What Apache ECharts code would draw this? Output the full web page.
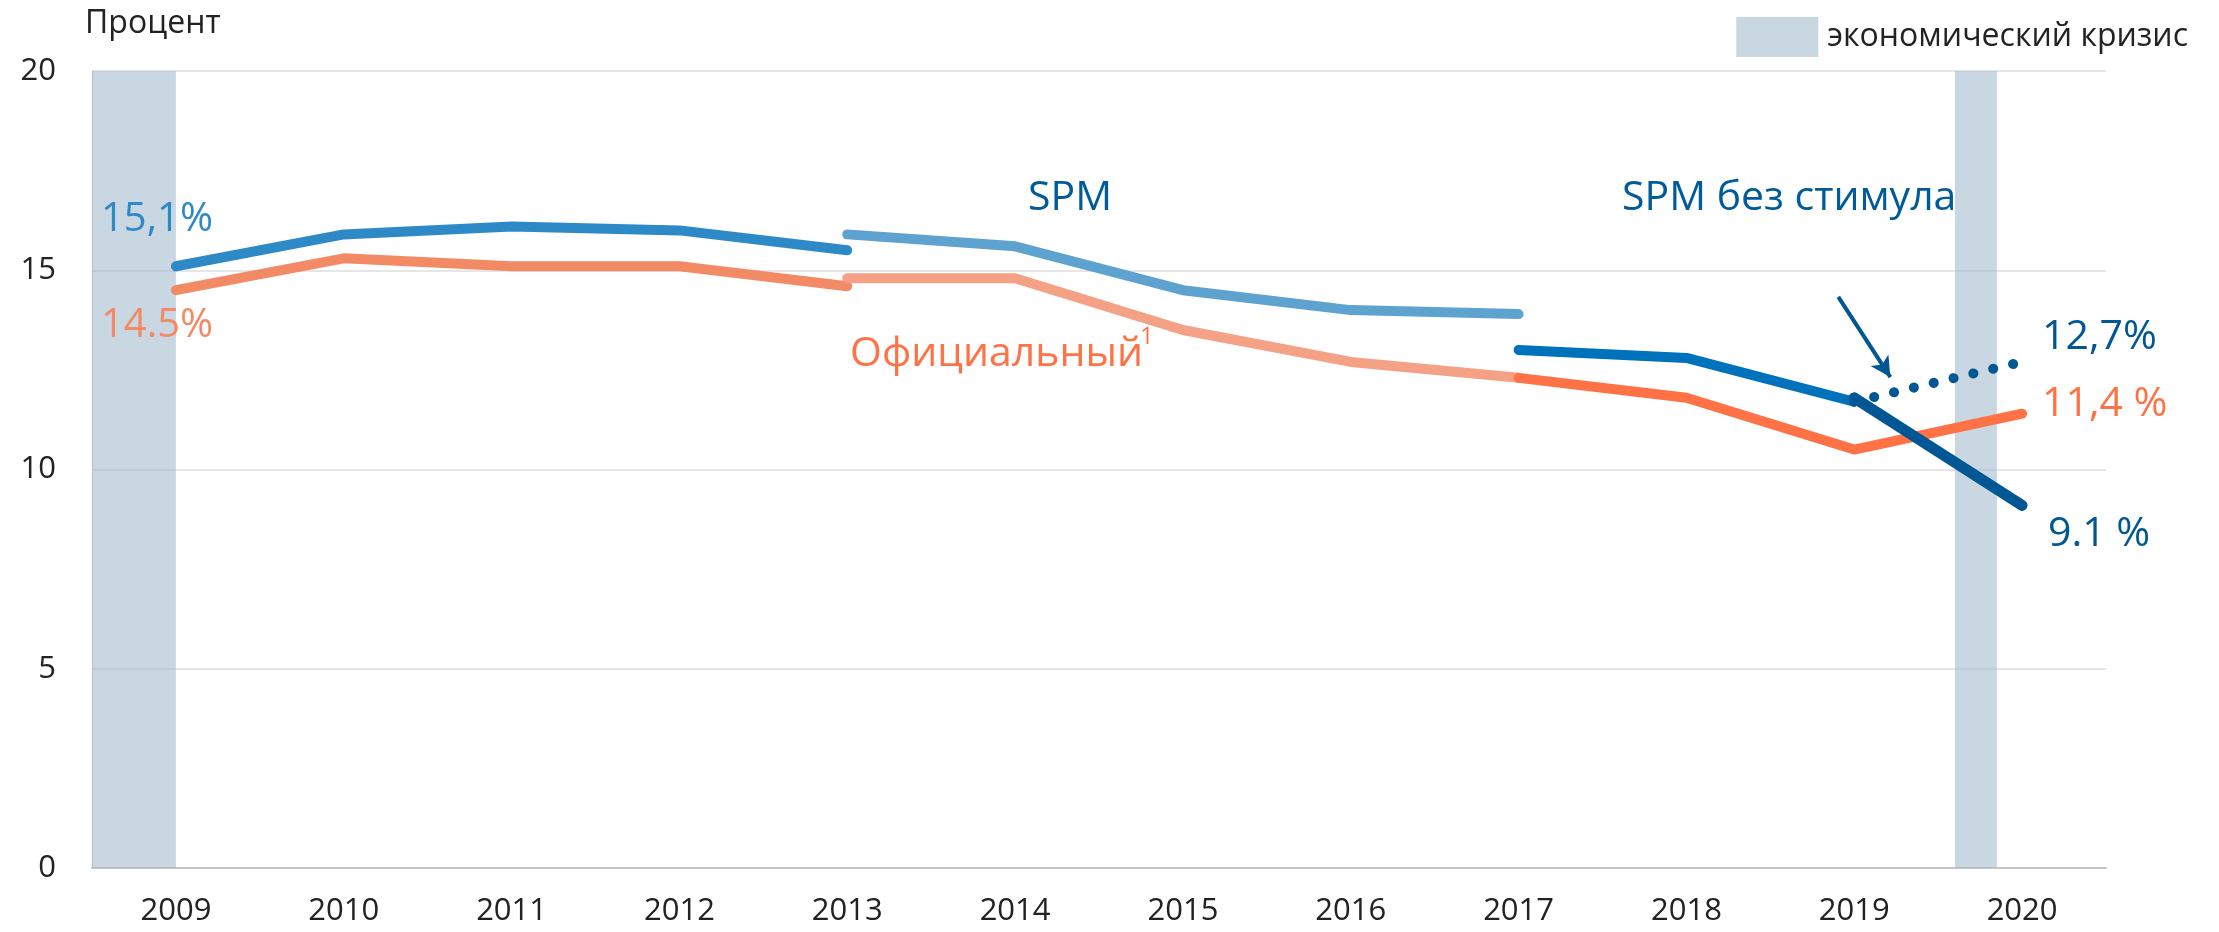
<!DOCTYPE html>
<html>
<head>
<meta charset="utf-8">
<script src="https://cdn.jsdelivr.net/npm/echarts@6/dist/echarts.min.js"></script>
<style>
  html, body { margin: 0; padding: 0; background: #fff; }
  #chart { width: 2219px; height: 932px; }
</style>
</head>
<body>
<div id="chart"></div>
<script>
// годы
var years = ['2009', '2010', '2011', '2012', '2013', '2014', '2015', '2016', '2017', '2018', '2019', '2020'];
// SPM, три участка ряда
var spmA = [15.1, 15.9, 16.1, 16.0, 15.5, null, null, null, null, null, null, null];
var spmB = [null, null, null, null, 15.9, 15.6, 14.5, 14.0, 13.9, null, null, null];
var spmC = [null, null, null, null, null, null, null, null, 13.0, 12.8, 11.7, null];
// 2019-2020: со стимулом и без
var spmStim = [null, null, null, null, null, null, null, null, null, null, 11.8, 9.1];
var spmNoStim = [null, null, null, null, null, null, null, null, null, null, 11.7, 12.7];
// официальный уровень
var offA = [14.5, 15.3, 15.1, 15.1, 14.6, null, null, null, null, null, null, null];
var offB = [null, null, null, null, 14.8, 14.8, 13.5, 12.7, 12.3, null, null, null];
var offC = [null, null, null, null, null, null, null, null, 12.3, 11.8, 10.5, 11.4];
// периоды кризиса (в долях года)
var crisisRanges = [[2008.5, 2009.0], [2019.6, 2019.85]];
// стрелка к пунктиру
var arrowFrom = [2018.905, 14.33];
var arrowTo = [2019.215, 12.32];

var FONT = '"Open Sans", "Noto Sans", sans-serif';
var NAVY = '#005794';

var chart = echarts.init(document.getElementById('chart'));

function lineSeries(name, data, color, width, z) {
  return {
    name: name,
    type: 'line',
    data: data,
    symbol: 'none',
    connectNulls: false,
    silent: true,
    z: z || 3,
    lineStyle: { color: color, width: width || 10, cap: 'round', join: 'round' }
  };
}

function txt(text, x, y, size, color, align) {
  return {
    type: 'text',
    x: x,
    y: y,
    z: 100,
    style: {
      text: text,
      fill: color,
      font: size + 'px ' + FONT,
      textAlign: align || 'left',
      textVerticalAlign: 'middle'
    }
  };
}

var option = {
  animation: false,
  backgroundColor: '#fff',
  textStyle: { fontFamily: FONT },
  grid: { left: 92, right: 113, top: 71, bottom: 64 },
  legend: {
    right: 26,
    top: 12,
    icon: 'rect',
    itemWidth: 82,
    itemHeight: 40,
    itemGap: 10,
    textStyle: { fontSize: 32, color: '#222', fontFamily: FONT, padding: [0, 0, 0, 4] },
    data: ['экономический кризис']
  },
  xAxis: [
    {
      type: 'category',
      data: years,
      boundaryGap: true,
      axisLine: { lineStyle: { color: '#c4c4c4', width: 2 } },
      axisTick: { alignWithLabel: true, inside: true, length: 8, lineStyle: { color: '#c8c8c8' } },
      axisLabel: { fontSize: 31, color: '#222', margin: 28 }
    },
    {
      type: 'value',
      show: false,
      min: 2008.5,
      max: 2020.5
    }
  ],
  yAxis: {
    type: 'value',
    min: 0,
    max: 20,
    interval: 5,
    axisLine: { show: true, lineStyle: { color: '#c8c8c8', width: 1 } },
    axisTick: { show: false },
    axisLabel: { fontSize: 31, color: '#222', margin: 36 },
    splitLine: { lineStyle: { color: '#e6e6e6', width: 2 } }
  },
  series: [
    {
      name: 'экономический кризис',
      type: 'line',
      xAxisIndex: 1,
      data: [],
      symbol: 'none',
      z: 1,
      silent: true,
      itemStyle: { color: 'rgb(201,215,224)' },
      lineStyle: { color: 'rgb(201,215,224)' },
      markArea: {
        silent: true,
        itemStyle: { color: 'rgba(155,182,200,0.55)' },
        data: crisisRanges.map(function(r) {
          return [{ xAxis: r[0] }, { xAxis: r[1] }];
        })
      },
      markLine: {
        silent: true,
        symbol: ['none', 'arrow'],
        symbolSize: [16, 20],
        label: { show: false },
        lineStyle: { color: NAVY, width: 4, type: 'solid' },
        data: [[{ coord: arrowFrom }, { coord: arrowTo }]]
      }
    },
    lineSeries('SPM 2009-2013', spmA, '#2e89c7'),
    lineSeries('SPM 2013-2017', spmB, '#5ea2cf'),
    lineSeries('SPM 2017-2019', spmC, '#0071bb'),
    lineSeries('Официальный 2009-2013', offA, '#f38a66'),
    lineSeries('Официальный 2013-2017', offB, '#f4a185'),
    lineSeries('Официальный 2017-2020', offC, '#ff7246'),
    lineSeries('SPM со стимулом', spmStim, NAVY, 11, 4),
    {
      name: 'SPM без стимула',
      type: 'line',
      data: spmNoStim,
      symbol: 'none',
      silent: true,
      z: 4,
      lineStyle: { color: NAVY, width: 10, cap: 'round', type: [0.1, 20.3] }
    }
  ],
  graphic: [
    txt('Процент', 85, 24, 32, '#222'),
    txt('15,1%', 101, 220, 40, '#2e89c7'),
    txt('14.5%', 101, 326, 40, '#f38a66'),
    txt('SPM', 1070, 198, 41, '#005b9a', 'center'),
    txt('SPM без стимула', 1622, 198, 41, '#005b9a'),
    txt('Официальный', 850, 354, 41, '#ff7246'),
    txt('1', 1140, 337, 24, '#ff7246'),
    txt('12,7%', 2042, 337, 41, NAVY),
    txt('11,4 %', 2042, 404, 41, '#ff7246'),
    txt('9.1 %', 2048, 534, 41, NAVY)
  ]
};

chart.setOption(option);
</script>
</body>
</html>
